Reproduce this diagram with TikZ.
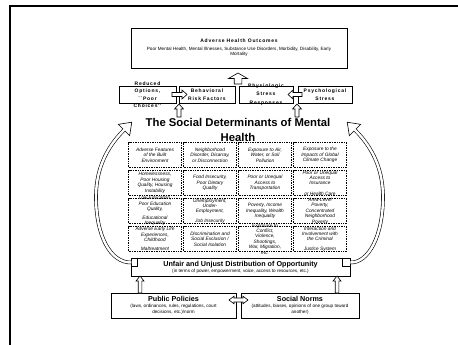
\documentclass[tikz,border=0pt]{standalone}
\usepackage{fontspec}
\setmainfont{Liberation Sans}
\newfontfamily\spacedfont[LetterSpace=15]{Liberation Sans}
\usetikzlibrary{positioning}

\newcommand{\cellfont}{\itshape\fontsize{4.8}{5.4}\selectfont}
\newcommand{\smallbold}{\spacedfont\bfseries\fontsize{5}{7.5}\selectfont}
\newcommand{\subfont}{\fontsize{4.6}{5.4}\selectfont}
\newcommand{\headfont}{\bfseries\fontsize{7.2}{8}\selectfont}

\begin{document}
\begin{tikzpicture}[x=1pt,y=-1pt,on grid,
	box/.style={draw, line width=0.7pt, inner sep=0pt, align=center, font=\subfont},
	cell/.style={draw, densely dotted, line width=0.7pt, minimum width=53pt, minimum height=25pt, inner sep=0pt},
	lab/.style={align=center, font=\cellfont, inner sep=0pt},
	blab/.style={align=center, font=\smallbold, inner sep=0pt},
	curved/.style={draw, line width=0.6pt, double=white, double distance=2.4pt},
	arrshaft/.store in=\arrshaft, arrshaft=2,
	arrhead/.store in=\arrhead, arrhead=4.5,
	arrtip/.store in=\arrtip, arrtip=5,
	blockarrow/.pic={
		\draw[fill=white, line width=0.6pt] (0,-\arrshaft) -- ({#1-\arrtip},-\arrshaft) -- ({#1-\arrtip},-\arrhead)
		-- (#1,0) -- ({#1-\arrtip},\arrhead) -- ({#1-\arrtip},\arrshaft) -- (0,\arrshaft) -- cycle;
	},
	bothways/.pic={
		\draw[fill=white, line width=0.6pt] (0,0) -- (\arrtip,-\arrhead) -- (\arrtip,-\arrshaft) -- ({#1-\arrtip},-\arrshaft)
		-- ({#1-\arrtip},-\arrhead) -- (#1,0) -- ({#1-\arrtip},\arrhead) -- ({#1-\arrtip},\arrshaft)
		-- (\arrtip,\arrshaft) -- (\arrtip,\arrhead) -- cycle;
	}]
	
	\useasboundingbox (0,0) rectangle (458,345);
	\draw [line width=2.2pt] (10,345) -- (10,6) -- (458,6);
	
	% outcomes
	\node (aho) [box, minimum width=216pt, minimum height=40pt] at (239,48)
	{{\spacedfont\bfseries\fontsize{5}{6}\selectfont Adverse Health Outcomes}\\[2.5pt]
		Poor Mental Health, Mental Illnesses, Substance Use Disorders, Morbidity, Disability, Early\\Mortality};
	\pic [rotate=90, arrshaft=3.8, arrhead=9.5, arrtip=5.5] at (238,84) {blockarrow=11};
	
	% pathways
	\node (reduced) [box, minimum width=57pt, minimum height=17pt,
	label={[blab]center:{Reduced\\Options,\\``Poor\\Choices''}}] at (147.5,94.5) {};
	\node (behav) [box, minimum width=56pt, minimum height=17pt, font=\smallbold] at (207,94.5) {Behavioral\\Risk Factors};
	\node (physio) [box, minimum width=54pt, minimum height=17pt,
	label={[blab]center:{Physiologic\\[1pt]Stress\\[1pt]Responses}}] at (266,94.5) {};
	\node (psych) [box, minimum width=54pt, minimum height=17pt, font=\smallbold] at (325,94.5) {Psychological\\Stress};
	\pic at (172,94.5) {blockarrow=15};
	\pic [rotate=180] at (302,94.5) {blockarrow=14};
	\pic [rotate=90] at (179,117) {blockarrow=13};
	\pic [rotate=90] at (297,117) {blockarrow=13};
	
	\node (sdmh) [align=center, font=\bfseries\fontsize{11.3}{15}\selectfont] at (238,129.5) {The Social Determinants of Mental\\Health};
	
	% determinants
	\node (c11) [cell, label={[lab]center:{Adverse Features\\of the Built\\Environment}}] at (155,155) {};
	\node (c12) [cell, right=55pt of c11, label={[lab]center:{Neighborhood\\Disorder, Disarray,\\or Disconnection}}] {};
	\node (c13) [cell, right=55pt of c12, label={[lab]center:{Exposure to Air,\\Water, or Soil\\Pollution}}] {};
	\node (c14) [cell, right=55pt of c13, label={[lab]center:{Exposure to the\\Impacts of Global\\Climate Change}}] {};
	
	\node (c21) [cell, below=28pt of c11, label={[lab]center:{Homelessness,\\Poor Housing\\Quality, Housing\\[1pt]Instability}}] {};
	\node (c22) [cell, right=55pt of c21, label={[lab]center:{Food Insecurity,\\Poor Dietary\\Quality}}] {};
	\node (c23) [cell, right=55pt of c22, label={[lab]center:{Poor or Unequal\\Access to\\Transportation}}] {};
	\node (c24) [cell, right=55pt of c23, label={[lab]center:{Poor or Unequal\\Access to\\Insurance\\[5pt]or Health Care}}] {};
	
	\node (c31) [cell, below=28pt of c21, label={[lab]center:{Low Education,\\Poor Education\\Quality,\\[3pt]Educational\\Inequality}}] {};
	\node (c32) [cell, right=55pt of c31, label={[lab]center:{Unemployment,\\Under-\\Employment,\\[4pt]Job Insecurity}}] {};
	\node (c33) [cell, right=55pt of c32, label={[lab]center:{Poverty, Income\\Inequality, Wealth\\Inequality}}] {};
	\node (c34) [cell, right=55pt of c33, label={[lab]center:{Area-Level\\Poverty,\\Concentrated\\Neighborhood\\Poverty}}] {};
	
	\node (c41) [cell, below=28pt of c31, label={[lab]center:{Adverse Early Life\\Experiences,\\Childhood\\[4pt]Maltreatment}}] {};
	\node (c42) [cell, right=55pt of c41, label={[lab]center:{Discrimination and\\Social Exclusion /\\Social Isolation}}] {};
	\node (c43) [cell, right=55pt of c42, label={[lab]center:{Exposure to\\Conflict,\\Violence,\\Shootings,\\War, Migration,\\etc.}}] {};
	\node (c44) [cell, right=55pt of c43, label={[lab]center:{Interaction and\\Involvement with\\the Criminal\\[4pt]Justice System}}] {};
	
	% opportunity and roots
	\node (unfair) [box, minimum width=219pt, minimum height=18pt] at (240.5,267)
	{{\headfont Unfair and Unjust Distribution of Opportunity}\\[0.5pt]
		(in terms of power, empowerment, voice, access to resources, etc.)};
	\node (lsq) [draw, line width=0.6pt, minimum width=5.5pt, minimum height=7.5pt, inner sep=0pt] at (134.5,262.5) {};
	\node (rsq) [draw, line width=0.6pt, minimum width=8pt, minimum height=8.5pt, inner sep=0pt] at (346,262.5) {};
	
	\node (policy) [box, minimum width=125pt, minimum height=25pt] at (173.5,305.5)
	{{\headfont Public Policies}\\[0.6pt]
		(laws, ordinances, rules, regulations, court\\decisions, etc.)/norm};
	\node (norms) [box, minimum width=118pt, minimum height=25pt] at (300,305.5)
	{{\headfont Social Norms}\\[0.6pt]
		(attitudes, biases, opinions of one group toward\\another)};
	\pic [rotate=90, arrshaft=1.8, arrhead=4] at (140,293) {blockarrow=17};
	\pic [rotate=90, arrshaft=1.8, arrhead=4] at (337,293) {blockarrow=17};
	\pic [arrhead=3.8] at (229,300) {bothways=19};
	
	% feedback loops
	\coordinate (lhead) at (124,130);
	\coordinate (rhead) at (355,130);
	\path [curved] (lsq.west) .. controls (110,263) and (96,235) .. (96,197)
	.. controls (96,165) and (110,144) .. (lhead);
	\path [curved] (rsq.east) .. controls (369,263) and (383,235) .. (383,197)
	.. controls (383,165) and (369,144) .. (rhead);
	\draw [fill=white, line width=0.6pt, shift={(lhead)}, rotate=45] (0,-8) -- (11,0) -- (0,8) -- cycle;
	\fill [white, shift={(lhead)}, rotate=45] (-0.6,-1.2) rectangle (0.5,1.2);
	\draw [fill=white, line width=0.6pt, shift={(rhead)}, rotate=135] (0,-8) -- (11,0) -- (0,8) -- cycle;
	\fill [white, shift={(rhead)}, rotate=135] (-0.6,-1.2) rectangle (0.5,1.2);
	
\end{tikzpicture}
\end{document}
